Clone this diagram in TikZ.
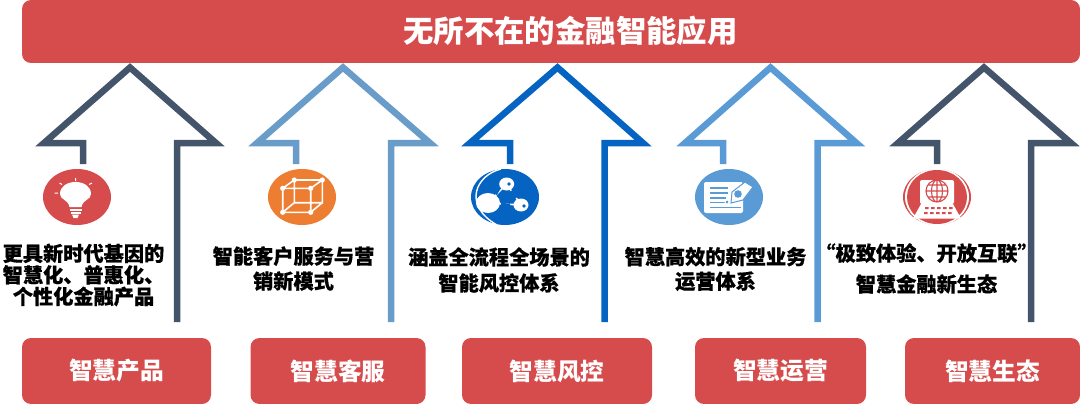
\documentclass[tikz,border=0pt]{standalone}
\usepackage{fontspec}
\setmainfont{Noto Sans CJK SC}[BoldFeatures={FakeBold=0.5}]
\newfontfamily\titlefont{Noto Sans CJK SC}
\usetikzlibrary{positioning, shapes.geometric}
\definecolor{boxred}{HTML}{D64C4C}
\definecolor{slate}{HTML}{44546A}
\definecolor{skyblue}{HTML}{6A9CC9}
\definecolor{deepblue}{HTML}{0563C1}
\definecolor{paleblue}{HTML}{5B9BD5}
\definecolor{iconorange}{HTML}{ED7D31}
\tikzset{
  redbox/.style={fill=boxred, rounded corners=9pt, inner sep=0pt, text=white, font=\titlefont\fontsize{23.7}{26}\selectfont\bfseries},
  desc/.style={align=center, inner sep=0pt, text=black, font=\fontsize{20.2}{#1}\selectfont\bfseries},
  badge/.style={ellipse, minimum width=68pt, minimum height=56pt, inner sep=0pt},
  bigarrow/.style={line width=6.5pt, miter limit=10},
  iconline/.style={draw=white, line width=1.6pt}
}
\begin{document}
\begin{tikzpicture}[x=1pt, y=-1pt]
  \useasboundingbox (0,0) rectangle (1080,404);

  \node[redbox, minimum width=1058pt, minimum height=63pt] (apps) at (551,31.5) {};
  \node[text=white, inner sep=0pt, font=\titlefont\fontsize{30.4}{32}\selectfont\bfseries] (title) at (570.5,31) {无所不在的金融智能应用};

  \foreach \apex/\wingl/\wingr/\stema/\stemb/\clr in {
    130/36/224/83/177/slate,
    343/249/438/296/391/skyblue,
    557.5/462/651/510/604.5/deepblue,
    770.5/677/864.5/723/817.5/paleblue,
    984/890/1079/937/1031/slate}
    \draw[bigarrow, draw=\clr] (\stema,164) -- (\stema,143) -- ({\wingl+8},143) -- (\apex,67.5)
      -- ({\wingr-8},143) -- (\stemb,143) -- (\stemb,322);

  \node[redbox, minimum width=189pt, minimum height=66pt] (product) at (116.5,371) {智慧产品};
  \node[redbox, minimum width=175pt, minimum height=66pt] (service) at (338,371) {智慧客服};
  \node[redbox, minimum width=190pt, minimum height=66pt] (risk) at (557,371) {智慧风控};
  \node[redbox, minimum width=171pt, minimum height=66pt] (operate) at (780.5,371) {智慧运营};
  \node[redbox, minimum width=175pt, minimum height=66pt] (ecology) at (992.5,371) {智慧生态};

  \node[desc=21.5pt] (producttext) at (83.5,275) {更具新时代基因的\\智慧化、普惠化、\\个性化金融产品};
  \node[desc=25pt] (servicetext) at (293.5,268.5) {智能客户服务与营\\销新模式};
  \node[desc=26pt] (risktext) at (499,270) {涵盖全流程全场景的\\智能风控体系};
  \node[desc=24.5pt] (operatetext) at (715.5,269) {智慧高效的新型业务\\运营体系};
  \node[desc=31pt] (ecologytext) at (926.5,268.5) {“极致体验、开放互联”\\智慧金融新生态};

  \node[badge, fill=boxred] (bulb) at (77,197) {};
  \fill[white] (69.5,207) .. controls (68,199) and (60,200) .. (60,194)
    .. controls (60,178) and (91,178) .. (91,194)
    .. controls (91,200) and (83,199) .. (81.5,207) -- cycle;
  \fill[white] (69.5,208.5) rectangle (81.5,210.5);
  \fill[white] (70.5,211.5) rectangle (80.5,213.5);
  \fill[white] (72,214.5) -- (79,214.5) -- (77.5,218) -- (73.5,218) -- cycle;
  \draw[iconline, line width=1pt] (75.5,178) -- (75.5,181) (89,184.5) -- (92,183) (62,184.5) -- (59.5,183) (54.5,193) -- (58,193);

  \node[badge, fill=iconorange] (cube) at (302,197) {};
  \draw[iconline] (294.3,180) -- (322.3,180) -- (322.3,202.7) -- (294.3,202.7) -- cycle
    (282.7,188.3) -- (310.7,188.3) -- (310.7,212.3) -- (282.7,212.3) -- cycle
    (294.3,180) -- (282.7,188.3) (322.3,180) -- (310.7,188.3)
    (322.3,202.7) -- (310.7,212.3) (294.3,202.7) -- (282.7,212.3);
  \foreach \cx/\cy in {294.3/180, 322.3/180, 282.7/188.3, 310.7/188.3, 282.7/212.3, 310.7/212.3}
    \fill[white] (\cx,\cy) circle[radius=2.6pt];

  \node[badge, fill=deepblue] (network) at (505,197) {};
  \draw[iconline, line width=1.4pt] (501,169) .. controls (476,175) and (462,205) .. (497,225);
  \draw[iconline] (506.7,184) -- (521,205) -- (488,203) -- cycle;
  \draw[draw=deepblue, line width=4pt] (511,191) -- (516,198) (500,186) -- (495,194) (501,205) -- (510,205.5);
  \fill[white] (506.7,184) ellipse[x radius=7.5pt, y radius=6.5pt];
  \fill[white] (521,205) ellipse[x radius=7.5pt, y radius=6.5pt];
  \fill[white] (488,203) ellipse[x radius=12pt, y radius=10pt];
  \fill[deepblue] (509,184) circle[radius=1.8pt] (524,206) circle[radius=1.8pt];

  \node[badge, fill=paleblue] (memo) at (729,197) {};
  \fill[white, rounded corners=2pt] (704,182) rectangle (743,213);
  \draw[draw=paleblue, line width=1.2pt] (710,188) -- (728,188) (710,193) -- (728,193)
    (710,198) -- (726,198) (710,202.5) -- (725,202.5) (710,207.5) -- (741,207.5);
  \draw[draw=paleblue, fill=white, line width=1pt] (732,192) -- (745,182) -- (753,187) -- (743,200) -- (731,203) -- cycle;
  \fill[paleblue] (738,194) circle[radius=3.8pt];
  \draw[draw=white, fill=paleblue, line width=1pt] (727,202) circle[radius=2pt];

  \node[badge, fill=boxred] (laptop) at (937,197) {};
  \fill[white] (937,197) ellipse[x radius=32pt, y radius=28.5pt];
  \fill[boxred] (937,197) ellipse[x radius=30pt, y radius=27pt];
  \fill[white, rounded corners=2pt] (920,180) rectangle (954,204);
  \fill[white] (921,204) -- (953,204) -- (961,218.5) -- (913,218.5) -- cycle;
  \draw[draw=boxred, line width=1.1pt] (937,191) circle[radius=11pt]
    (937,191) ellipse[x radius=5.5pt, y radius=11pt] (937,180) -- (937,202)
    (926,191) -- (948,191) (928,185) -- (946,185) (928,197) -- (946,197);
  \foreach \kx in {925,931,937,943,949}
    \fill[boxred] (\kx,207) rectangle ++(3.5,2) ({\kx-1},212) rectangle ++(3.5,2);
\end{tikzpicture}
\end{document}
